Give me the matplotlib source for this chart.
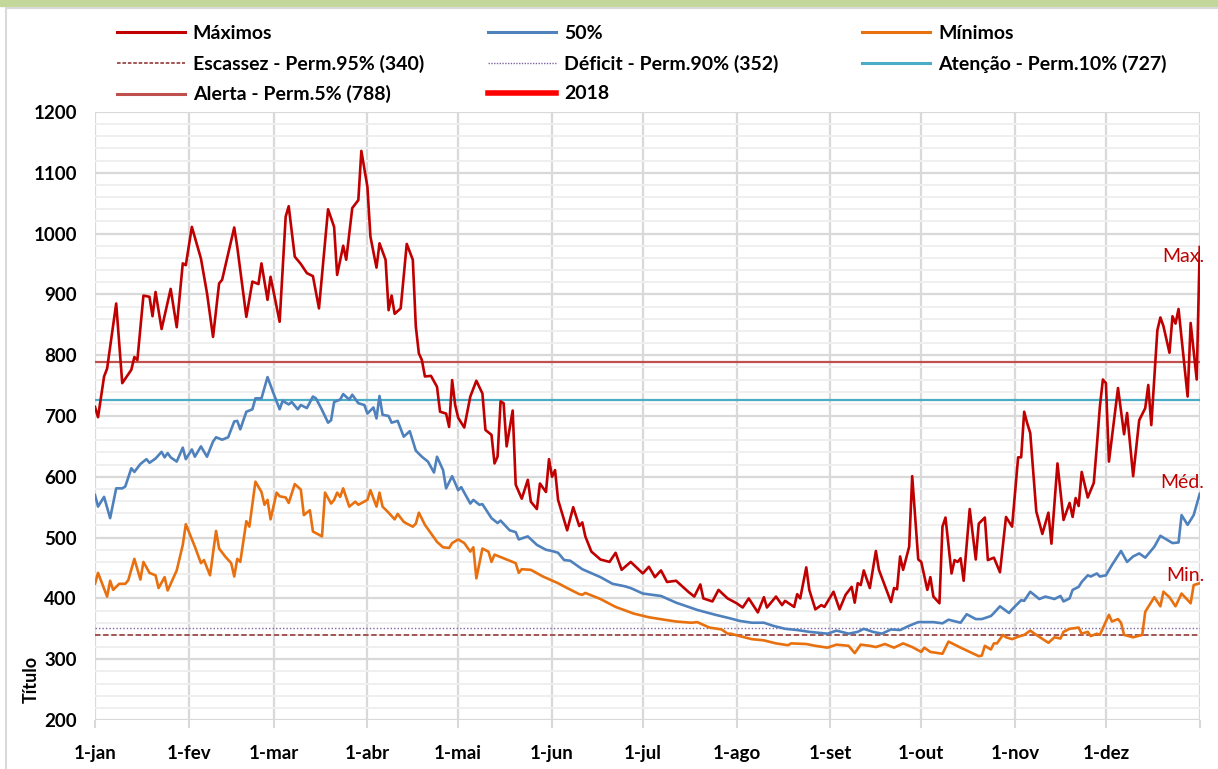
import matplotlib
matplotlib.use('Agg')
import matplotlib.pyplot as plt
from matplotlib.lines import Line2D
from matplotlib.patches import Rectangle

# Dados (dia do ano, valor)
max_dia = [0, 1, 3, 4, 7, 9, 12, 13, 14, 16, 18, 19, 20, 22, 25, 27, 29, 30, 32, 35,
           37, 39, 41, 42, 46, 47, 50, 52, 54, 55, 57, 58, 61, 63, 64, 66, 68, 70, 72, 74,
           77, 79, 80, 82, 83, 85, 87, 88, 90, 91, 93, 94, 96, 97, 98, 99, 101, 103, 105, 106,
           107, 108, 109, 111, 113, 114, 116, 117, 118, 119, 120, 122, 124, 126, 128, 129, 131, 132, 133, 134,
           135, 136, 138, 139, 141, 143, 144, 146, 147, 149, 150, 151, 152, 153, 156, 158, 160, 161, 162, 164,
           167, 170, 172, 174, 177, 181, 183, 185, 187, 189, 192, 196, 198, 200, 201, 204, 206, 209, 212, 214,
           216, 219, 221, 222, 225, 227, 228, 231, 232, 233, 235, 236, 238, 240, 241, 244, 246, 248, 250, 251,
           252, 253, 254, 256, 258, 259, 263, 264, 265, 266, 267, 269, 270, 272, 273, 275, 276, 277, 279, 280,
           281, 283, 284, 285, 286, 287, 289, 291, 292, 294, 295, 297, 299, 301, 303, 305, 306, 307, 308, 309,
           311, 313, 315, 316, 318, 320, 322, 323, 324, 325, 326, 328, 330, 331, 332, 333, 334, 335, 338, 340,
           341, 343, 345, 347, 348, 349, 351, 352, 353, 355, 356, 357, 358, 361, 362, 364, 365]
max_val = [715, 698, 765, 778, 885, 754, 776, 797, 792, 898, 896, 864, 904, 843, 909, 846, 951, 948, 1011, 959,
           902, 830, 918, 924, 1010, 978, 863, 921, 917, 951, 891, 929, 855, 1028, 1045, 962, 950, 935, 930, 877,
           1040, 1011, 932, 980, 957, 1042, 1055, 1136, 1077, 995, 944, 984, 957, 874, 898, 868, 877, 983, 957, 847,
           803, 792, 765, 766, 748, 707, 704, 682, 759, 718, 697, 681, 732, 758, 737, 677, 669, 622, 633, 724,
           721, 650, 709, 587, 564, 595, 559, 547, 589, 575, 629, 600, 611, 562, 512, 550, 519, 525, 502, 477,
           464, 460, 475, 447, 460, 441, 452, 435, 446, 427, 429, 411, 403, 423, 400, 395, 414, 400, 392, 385,
           400, 377, 402, 385, 403, 389, 396, 386, 407, 400, 451, 414, 382, 389, 386, 411, 382, 406, 419, 393,
           425, 422, 446, 417, 478, 447, 394, 417, 415, 469, 447, 485, 601, 464, 460, 414, 435, 403, 392, 518,
           533, 441, 463, 460, 466, 429, 547, 464, 523, 533, 463, 467, 443, 534, 518, 632, 632, 707, 688, 672,
           543, 506, 541, 490, 622, 529, 557, 534, 565, 552, 608, 566, 590, 650, 715, 760, 754, 625, 746, 670,
           705, 601, 693, 713, 751, 685, 841, 862, 848, 804, 864, 852, 876, 732, 853, 760, 978]

med_dia = [0, 1, 3, 5, 7, 9, 10, 12, 13, 15, 17, 18, 20, 22, 23, 24, 25, 27, 29, 30,
           32, 33, 35, 37, 39, 40, 42, 44, 46, 47, 48, 50, 52, 53, 55, 57, 59, 61, 62, 64,
           65, 67, 68, 70, 72, 73, 75, 77, 78, 79, 81, 82, 84, 85, 87, 89, 90, 92, 93, 94,
           95, 97, 98, 100, 102, 104, 106, 108, 110, 112, 113, 115, 116, 118, 120, 121, 124, 125, 127, 128,
           131, 133, 134, 137, 139, 140, 143, 146, 149, 151, 153, 155, 157, 161, 167, 171, 175, 177, 181, 187,
           192, 199, 205, 210, 213, 217, 221, 224, 228, 232, 236, 242, 245, 249, 252, 254, 257, 260, 263, 266,
           269, 272, 277, 280, 282, 286, 288, 291, 293, 296, 297, 299, 302, 303, 306, 307, 309, 312, 314, 317,
           319, 320, 322, 323, 325, 326, 328, 329, 331, 332, 334, 336, 339, 341, 343, 345, 347, 350, 352, 356,
           358, 359, 361, 363, 365]
med_val = [570, 551, 567, 532, 581, 581, 584, 614, 608, 621, 629, 623, 630, 641, 632, 639, 632, 625, 648, 629,
           645, 633, 650, 633, 658, 665, 661, 665, 691, 692, 678, 707, 711, 729, 729, 764, 737, 711, 725, 719,
           723, 711, 718, 713, 732, 729, 710, 689, 693, 723, 727, 736, 727, 735, 721, 718, 704, 714, 696, 733,
           702, 700, 689, 692, 666, 675, 643, 633, 625, 607, 633, 611, 581, 601, 578, 583, 556, 562, 554, 555,
           532, 524, 528, 512, 509, 497, 502, 488, 480, 478, 475, 463, 462, 448, 435, 424, 420, 417, 408, 404,
           393, 381, 373, 367, 363, 360, 360, 355, 350, 348, 345, 342, 347, 342, 345, 350, 345, 342, 349, 348,
           355, 361, 361, 359, 365, 360, 374, 366, 366, 371, 376, 387, 376, 382, 397, 396, 411, 399, 403, 399,
           404, 395, 400, 414, 419, 427, 438, 436, 441, 436, 438, 455, 478, 460, 469, 474, 467, 485, 503, 491,
           492, 537, 521, 537, 572]

min_dia = [0, 1, 4, 5, 6, 8, 10, 11, 13, 15, 16, 18, 20, 21, 23, 24, 27, 29, 30, 33,
           35, 36, 38, 40, 41, 43, 45, 46, 47, 48, 50, 51, 53, 55, 56, 57, 58, 60, 61, 63,
           64, 66, 68, 69, 71, 72, 75, 76, 78, 79, 80, 81, 82, 84, 86, 87, 90, 91, 93, 94,
           95, 97, 99, 100, 102, 103, 105, 106, 107, 109, 111, 113, 115, 117, 118, 120, 122, 124, 125, 126,
           128, 130, 131, 132, 135, 139, 140, 141, 144, 148, 153, 156, 160, 161, 162, 167, 172, 178, 183, 188,
           192, 197, 199, 203, 207, 209, 210, 213, 217, 221, 225, 229, 230, 235, 238, 242, 245, 249, 251, 253,
           256, 258, 261, 264, 267, 270, 273, 274, 276, 280, 282, 286, 289, 292, 293, 294, 296, 297, 298, 300,
           301, 303, 305, 307, 309, 311, 315, 317, 319, 320, 322, 325, 326, 328, 329, 331, 332, 334, 335, 336,
           338, 339, 340, 343, 346, 347, 350, 352, 353, 355, 357, 359, 362, 363, 365]
min_val = [424, 442, 403, 429, 414, 424, 424, 430, 465, 431, 460, 442, 438, 417, 435, 413, 446, 488, 522, 485,
           458, 463, 438, 511, 482, 469, 458, 436, 465, 460, 527, 518, 592, 575, 554, 562, 530, 574, 568, 566,
           557, 588, 579, 537, 545, 510, 502, 574, 556, 562, 574, 567, 581, 551, 559, 554, 562, 578, 551, 574,
           551, 541, 530, 539, 526, 523, 518, 523, 541, 521, 507, 493, 484, 483, 491, 497, 491, 477, 484, 433,
           482, 477, 460, 472, 466, 458, 442, 448, 447, 436, 425, 417, 407, 406, 409, 399, 386, 375, 369, 365,
           362, 360, 361, 352, 349, 342, 342, 338, 333, 331, 326, 323, 326, 325, 322, 319, 324, 322, 310, 324,
           322, 320, 325, 319, 326, 320, 312, 319, 312, 309, 329, 319, 312, 305, 306, 322, 316, 326, 326, 340,
           336, 333, 337, 340, 347, 340, 327, 336, 334, 345, 350, 352, 342, 345, 338, 342, 340, 362, 373, 362,
           366, 360, 340, 336, 340, 378, 402, 387, 411, 402, 387, 408, 392, 422, 425]

# Limiares de permanência
escassez = 340
deficit = 352
atencao = 727
alerta = 788

meses_pos = [0, 31, 59, 90, 120, 151, 181, 212, 243, 273, 304, 334]
meses_lbl = ['1-jan', '1-fev', '1-mar', '1-abr', '1-mai', '1-jun',
             '1-jul', '1-ago', '1-set', '1-out', '1-nov', '1-dez']

plt.rcParams['font.family'] = ['Lato', 'DejaVu Sans']

fig = plt.figure(figsize=(12.18, 7.69), dpi=100)
ax = fig.add_axes([0.078, 0.0637, 0.907, 0.7907])

c_max = '#c00000'
c_med = '#4f81bd'
c_min = '#e8700f'

ax.plot(max_dia, max_val, color=c_max, lw=1.9, zorder=5)
ax.plot(med_dia, med_val, color=c_med, lw=1.9, zorder=5)
ax.plot(min_dia, min_val, color=c_min, lw=1.9, zorder=5)

ax.axhline(escassez, color='#9b4a47', lw=1.3, ls=(0, (3, 1.5)), zorder=4)
ax.axhline(deficit, color='#8064a2', lw=1.0, ls=(0, (1, 1.5)), zorder=4)
ax.axhline(atencao, color='#4bacc6', lw=1.6, zorder=4)
ax.axhline(alerta, color='#c0504d', lw=1.6, zorder=4)

ax.set_xlim(0, 365)
ax.set_ylim(200, 1200)
ax.set_yticks(range(200, 1201, 100))
ax.set_yticks(range(200, 1201, 20), minor=True)
ax.set_xticks(meses_pos + [365])
ax.set_xticklabels(meses_lbl + [''])

ax.grid(True, which='major', axis='y', color='#d9d9d9', lw=1.6, zorder=0)
ax.grid(True, which='minor', axis='y', color='#efefef', lw=1.4, zorder=0)
ax.grid(True, which='major', axis='x', color='#d9d9d9', lw=1.6, zorder=0)

for s in ax.spines.values():
    s.set_visible(False)
ax.tick_params(axis='y', which='both', length=0, pad=13, labelsize=13.5)
ax.tick_params(axis='x', length=6, color='#d9d9d9', width=1.5, pad=12, labelsize=13.5)
for t in ax.get_xticklabels() + ax.get_yticklabels():
    t.set_fontweight('bold')

ax.set_ylabel('Título', fontsize=13, fontweight='bold')
ax.yaxis.set_label_coords(-0.050, 0.066)

# Rótulos à direita
ax.text(1.004, 0.763, 'Max.', transform=ax.transAxes, color=c_max, fontsize=14, ha='right', va='center')
ax.text(1.004, 0.390, 'Méd.', transform=ax.transAxes, color=c_max, fontsize=14, ha='right', va='center')
ax.text(1.004, 0.237, 'Min.', transform=ax.transAxes, color=c_max, fontsize=14, ha='right', va='center')

# Legenda em três colunas
colunas = [
    [(Line2D([], [], color=c_max, lw=2.2), 'Máximos'),
     (Line2D([], [], color='#9b4a47', lw=1.3, ls=(0, (2, 1))), 'Escassez - Perm.95% (340)'),
     (Line2D([], [], color='#c0504d', lw=2.2), 'Alerta - Perm.5% (788)')],
    [(Line2D([], [], color=c_med, lw=2.2), '50%'),
     (Line2D([], [], color='#8064a2', lw=1.0, ls=(0, (1, 1))), 'Déficit - Perm.90% (352)'),
     (Line2D([], [], color='#ff0000', lw=4), '2018')],
    [(Line2D([], [], color=c_min, lw=2.2), 'Mínimos'),
     (Line2D([], [], color='#4bacc6', lw=2.2), 'Atenção - Perm.10% (727)')],
]
x_col = [0.096, 0.401, 0.708]
for xc, col in zip(x_col, colunas):
    fig.legend([h for h, _ in col], [l for _, l in col], loc='upper left',
               bbox_to_anchor=(xc, 0.968), frameon=False, borderpad=0, borderaxespad=0,
               handlelength=3.5, handletextpad=0.4, labelspacing=0.66,
               prop={'weight': 'bold', 'size': 14})

# Moldura e faixa superior
fig.patches.append(Rectangle((0, 1 - 6 / 769), 1, 6 / 769, transform=fig.transFigure,
                             color='#c4d79b', zorder=0))
fig.patches.append(Rectangle((0.005, -0.01), 1.1, 1.0, transform=fig.transFigure,
                             fill=False, edgecolor='#d9d9d9', lw=1.5, zorder=0))

fig.savefig('out.png', dpi=100)
